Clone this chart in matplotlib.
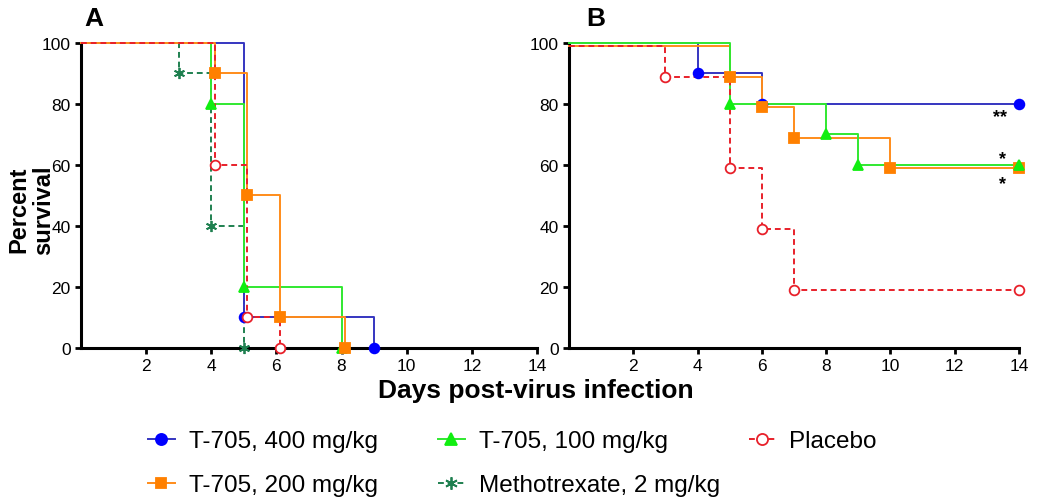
import matplotlib.pyplot as plt
from matplotlib.lines import Line2D

plt.rcParams['font.family'] = ['Liberation Sans', 'DejaVu Sans']

# panel A - survival (%) at each day
a_days_400 = [0, 5, 9]
a_surv_400 = [100, 10, 0]
a_days_200 = [0, 4.1, 5.1, 6.1, 8.1]
a_surv_200 = [100, 90, 50, 10, 0]
a_days_100 = [0, 4, 5, 8]
a_surv_100 = [100, 80, 20, 0]
a_days_mtx = [0, 3, 4, 5]
a_surv_mtx = [100, 90, 40, 0]
a_days_pla = [0, 4.1, 5.1, 6.1]
a_surv_pla = [100, 60, 10, 0]

# panel B
b_days_400 = [0, 4, 6, 14]
b_surv_400 = [100, 90, 80, 80]
b_days_200 = [0, 5, 6, 7, 10, 14]
b_surv_200 = [99, 89, 79, 69, 59, 59]
b_days_100 = [0, 5, 8, 9, 14]
b_surv_100 = [100, 80, 70, 60, 60]
b_days_pla = [0, 3, 5, 6, 7, 14]
b_surv_pla = [99, 89, 59, 39, 19, 19]

labels = {"400": "T-705, 400 mg/kg", "200": "T-705, 200 mg/kg",
          "100": "T-705, 100 mg/kg", "mtx": "Methotrexate, 2 mg/kg",
          "pla": "Placebo"}
stars_text = ["**", "*", "*"]
stars_x = [13.4, 13.5, 13.5]
stars_y = [76, 62, 54]

# style per group: line colour, marker colour, marker, linestyle, filled
styles = {
    "400": dict(lc="#3535c0", mc="#0000ff", m="o", ls="-", fill=True, ms=7),
    "200": dict(lc="#ff8c1a", mc="#ff8000", m="s", ls="-", fill=True, ms=6.5),
    "100": dict(lc="#30e830", mc="#11ee11", m="^", ls="-", fill=True, ms=7),
    "mtx": dict(lc="#1f8050", mc="#1f8050", m=(6, 2, 0), ls=(0, (3, 2)), fill=True, ms=8),
    "pla": dict(lc="#e8202a", mc="#e8202a", m="o", ls=(0, (3, 2)), fill=False, ms=7),
}


def km(ax, days, surv, key):
    s = styles[key]
    ax.step(days, surv, where='post', color=s["lc"], ls=s["ls"], lw=1.4,
            clip_on=False, zorder=3)
    ax.plot(days[1:], surv[1:], ls='none', marker=s["m"], ms=s["ms"],
            mfc=s["mc"] if s["fill"] else 'white', mec=s["mc"], mew=1.3,
            clip_on=False, zorder=4)


fig = plt.figure(figsize=(10.5, 5.02), dpi=100)
axA = fig.add_axes([0.0771, 0.3048, 0.4343, 0.6076])
axB = fig.add_axes([0.5419, 0.3048, 0.4286, 0.6076])

km(axA, a_days_mtx, a_surv_mtx, "mtx")
km(axA, a_days_400, a_surv_400, "400")
km(axA, a_days_100, a_surv_100, "100")
km(axA, a_days_200, a_surv_200, "200")
km(axA, a_days_pla, a_surv_pla, "pla")

km(axB, b_days_400, b_surv_400, "400")
km(axB, b_days_200, b_surv_200, "200")
km(axB, b_days_100, b_surv_100, "100")
km(axB, b_days_pla, b_surv_pla, "pla")

for t, x, y in zip(stars_text, stars_x, stars_y):
    axB.text(x, y, t, fontsize=13, fontweight='bold', ha='center', va='center')

for ax in (axA, axB):
    ax.set_xlim(0, 14)
    ax.set_ylim(0, 100)
    ax.set_xticks(range(2, 15, 2))
    ax.set_yticks(range(0, 101, 20))
    ax.spines['top'].set_visible(False)
    ax.spines['right'].set_visible(False)
    ax.spines['left'].set_linewidth(2.2)
    ax.spines['bottom'].set_linewidth(2.2)
    ax.tick_params(width=2, length=4.5, labelsize=12.5, pad=3)

fig.text(0.089, 0.963, "A", fontsize=19, fontweight='bold', ha='center', va='center')
fig.text(0.5676, 0.963, "B", fontsize=19, fontweight='bold', ha='center', va='center')
fig.text(0.03, 1 - 210 / 502, "Percent\nsurvival", rotation=90, fontsize=17,
         fontweight='bold', ha='center', va='center', linespacing=1.1)
fig.text(0.51, 1 - 391 / 502, "Days post-virus infection", fontsize=19,
         fontweight='bold', ha='center', va='center')


def handle(key):
    s = styles[key]
    return Line2D([], [], color=s["lc"], ls=s["ls"], lw=1.4, marker=s["m"],
                  ms=s["ms"] + 1, mfc=s["mc"] if s["fill"] else 'white',
                  mec=s["mc"], mew=1.3)


# one legend per column, as laid out in the original
columns = [(0.141, ["400", "200"]), (0.417, ["100", "mtx"]), (0.713, ["pla"])]
for x0, keys in columns:
    fig.legend([handle(k) for k in keys], [labels[k] for k in keys],
               frameon=False, fontsize=17.5, loc='upper left',
               bbox_to_anchor=(x0, 0.141), borderaxespad=0, borderpad=0,
               handlelength=1.1, handletextpad=0.58, labelspacing=0.91)

fig.savefig("out.png", dpi=100)
